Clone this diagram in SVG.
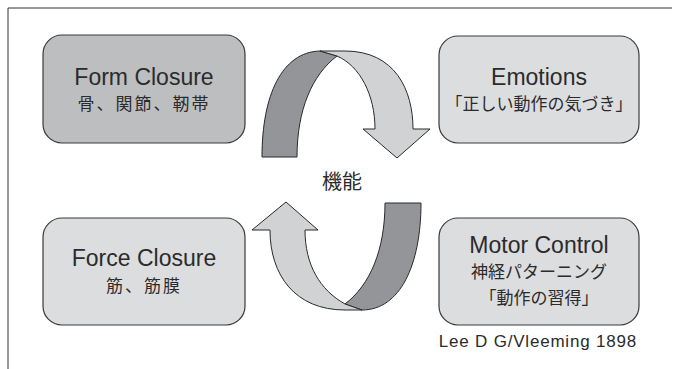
<svg xmlns="http://www.w3.org/2000/svg" width="678" height="369" viewBox="0 0 678 369">
<style>
.box{stroke:#3a3a3a;stroke-width:1.2}
.lt{fill:#dcdddf}
.dk{fill:#bdbec0}
.en{font-family:"Liberation Sans","Noto Sans CJK JP",sans-serif;font-size:23px;fill:#2b2b2b;text-anchor:middle}
.jp{font-family:"Liberation Sans","Noto Sans CJK JP",sans-serif;font-size:17px;fill:#2b2b2b;text-anchor:middle}
.band{stroke:#2a2a2a;stroke-width:1;stroke-linejoin:round}
.bl{fill:#d1d2d4}
.bd{fill:#939598}
</style>
<rect width="678" height="369" fill="#ffffff"/>
<path d="M8,369 L8,8 L672,8" fill="none" stroke="#333" stroke-width="1"/>
<g id="connectors">
<g id="arrow-top">
<path class="band bd" d="M262,157 C262,95 282,52 320,51 L337,56 C312,75 297,110 297,157 Z"/>
<path class="band bl" d="M337,56 C360,66 375,95 375,129 L363,129 L397,158 L430,129 L413,129 C413,90 395,51 345,51 L320,51 Z"/>
</g>
<g id="arrow-bottom">
<path class="band bd" d="M385,203 L421,203 C421,265 400,310 362,310 L345,304 C370,285 385,250 385,203 Z"/>
<path class="band bl" d="M305,230 L318,230 L286,202 L252,230 L270,230 C270,275 295,310 345,310 L362,310 L345,304 C320,290 305,265 305,230 Z"/>
</g>
</g>
<g id="form-closure">
<rect class="box dk" x="43" y="35" width="202" height="108" rx="19"/>
<text class="en" x="144" y="85">Form Closure</text>
<text class="jp" x="144" y="110" letter-spacing="2">骨、関節、靭帯</text>
</g>
<g id="emotions">
<rect class="box lt" x="439" y="36" width="200" height="107" rx="19"/>
<text class="en" x="539" y="85">Emotions</text>
<text class="jp" x="539" y="110">「正しい動作の気づき」</text>
</g>
<g id="force-closure">
<rect class="box lt" x="43" y="218" width="202" height="107" rx="19"/>
<text class="en" x="144" y="266">Force Closure</text>
<text class="jp" x="144" y="292" letter-spacing="2">筋、筋膜</text>
</g>
<g id="motor-control">
<rect class="box lt" x="439" y="218" width="200" height="107" rx="19"/>
<text class="en" x="539" y="253">Motor Control</text>
<text class="jp" x="539" y="278">神経パターニング</text>
<text class="jp" x="539" y="304">「動作の習得」</text>
</g>
<g id="function">
<text class="jp" x="342" y="189" style="font-size:20px">機能</text>
</g>
<text x="637" y="347" style="font-family:'Liberation Sans',sans-serif;font-size:17px;letter-spacing:0.8px;fill:#2b2b2b;text-anchor:end">Lee D G/Vleeming 1898</text>
</svg>
